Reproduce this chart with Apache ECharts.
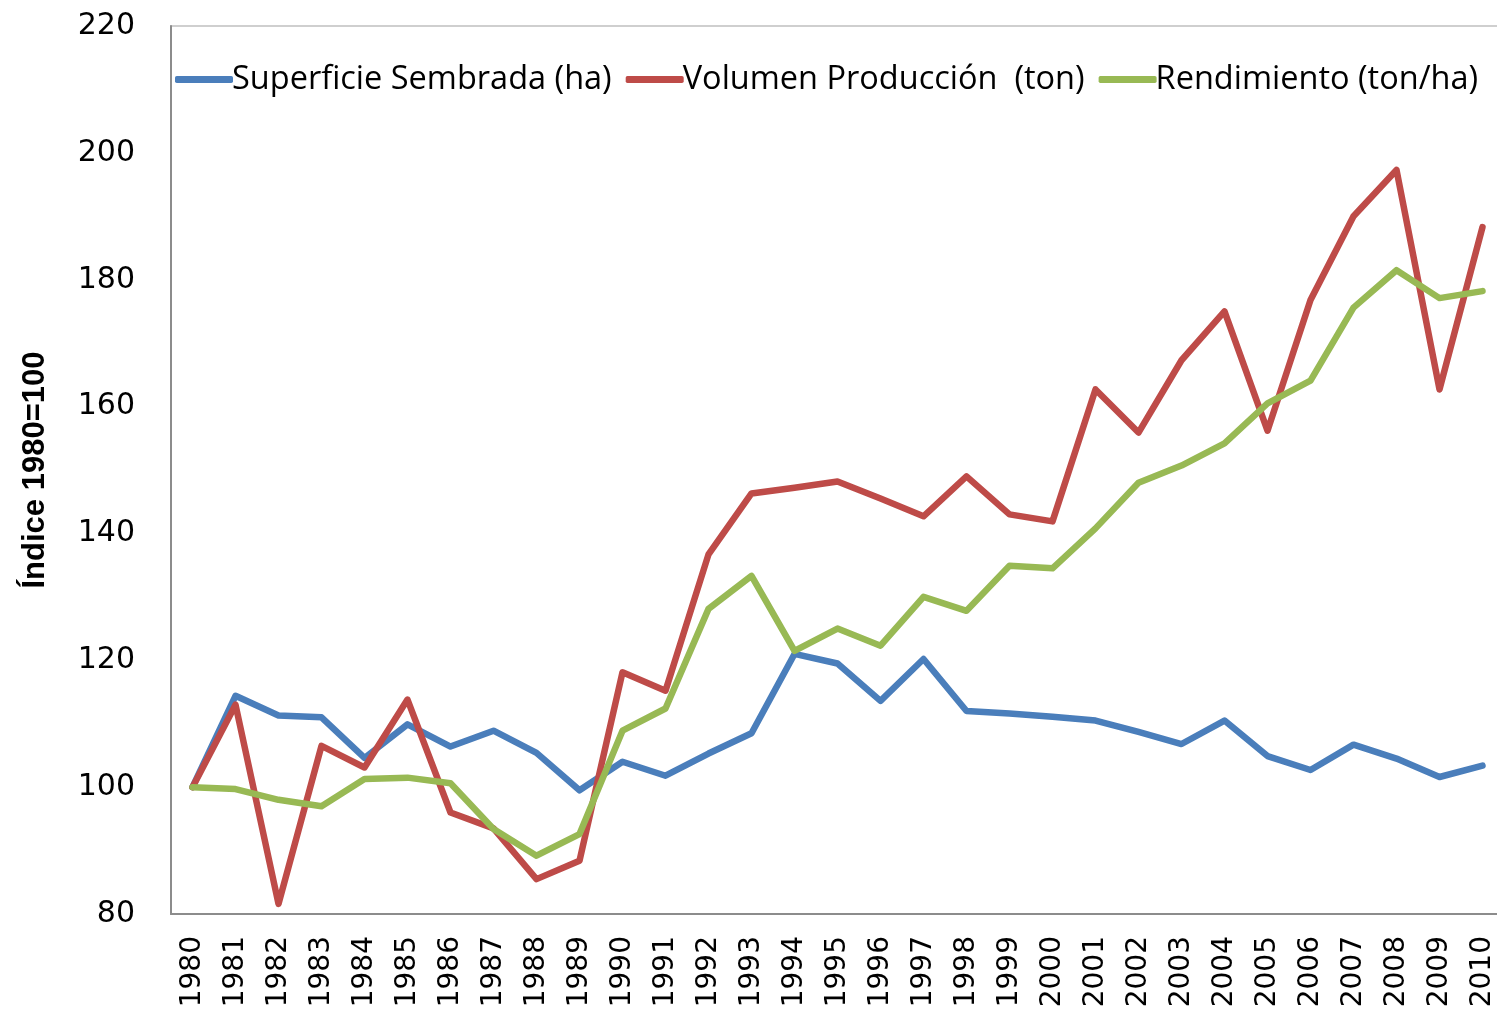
<!DOCTYPE html>
<html>
<head>
<meta charset="utf-8">
<script src="https://cdn.jsdelivr.net/npm/echarts@6/dist/echarts.min.js"></script>
<style>
html,body{margin:0;padding:0;background:#fff;overflow:hidden;}
#chart{width:1504px;height:1012px;}
</style>
</head>
<body>
<div id="chart"></div>
<script>
const years = ['1980','1981','1982','1983','1984','1985','1986','1987','1988','1989','1990','1991','1992','1993','1994','1995','1996','1997','1998','1999','2000','2001','2002','2003','2004','2005','2006','2007','2008','2009','2010'];
const superficie = [100,114.4,111.3,111.0,104.6,109.9,106.4,108.9,105.4,99.5,104.0,101.8,105.3,108.5,121.0,119.5,113.6,120.2,112.0,111.6,111.1,110.5,108.7,106.8,110.5,104.9,102.7,106.7,104.5,101.6,103.4];
const volumen = [100,113.0,81.6,106.5,103.1,113.8,96.0,93.5,85.5,88.4,118.1,115.2,136.7,146.3,147.2,148.2,145.5,142.7,149.0,143.0,141.9,162.7,155.9,167.3,175.0,156.2,176.8,190.0,197.3,162.7,188.3];
const rendimiento = [100,99.7,98.0,97.0,101.3,101.5,100.6,93.4,89.2,92.6,108.9,112.4,128.1,133.3,121.5,125.0,122.3,130.0,127.8,134.9,134.5,140.8,148.0,150.7,154.2,160.5,164.1,175.6,181.5,177.1,178.2];
const seriesNames = ['Superficie Sembrada (ha)','Volumen Producción  (ton)','Rendimiento (ton/ha)'];
const colors = ['#4A7EBB','#BE4B48','#98B954'];

const chart = echarts.init(document.getElementById('chart'));
const mk = (name, data, color) => ({
  name, type: 'line', data, symbol: 'none', smooth: false,
  lineStyle: {width: 6.5, color, cap: 'round', join: 'round'},
  itemStyle: {color}
});
chart.setOption({
  animation: false,
  backgroundColor: '#fff',
  grid: {left: 171, right: 0, top: 26, bottom: 98, show: true, borderColor: '#c0c0c0', borderWidth: 1.5},
  legend: {
    top: 58, left: 170, width: 1330, itemGap: 14, itemWidth: 58, itemHeight: 7,
    icon: 'roundRect',
    textStyle: {fontFamily: 'Open Sans', fontSize: 32.5, color: '#000', padding: [0,0,0,-6]},
    data: seriesNames
  },
  xAxis: {
    type: 'category', data: years, boundaryGap: true,
    axisLine: {lineStyle: {color: '#8c8c8c', width: 2}},
    axisTick: {show: false},
    axisLabel: {rotate: 90, fontFamily: 'DejaVu Sans', fontSize: 28, color: '#000', margin: 22, interval: 0}
  },
  yAxis: {
    type: 'value', min: 80, max: 220, interval: 20,
    name: 'Índice 1980=100', nameLocation: 'middle', nameGap: 120,
    nameTextStyle: {fontFamily: 'Liberation Sans', fontWeight: 'bold', fontSize: 31, color: '#000'},
    axisLine: {show: true, lineStyle: {color: '#8c8c8c', width: 2}},
    axisTick: {show: false},
    splitLine: {show: false},
    axisLabel: {fontFamily: 'DejaVu Sans', fontSize: 30, color: '#000', margin: 36}
  },
  series: [mk(seriesNames[0], superficie, colors[0]), mk(seriesNames[1], volumen, colors[1]), mk(seriesNames[2], rendimiento, colors[2])]
});
</script>
</body>
</html>
